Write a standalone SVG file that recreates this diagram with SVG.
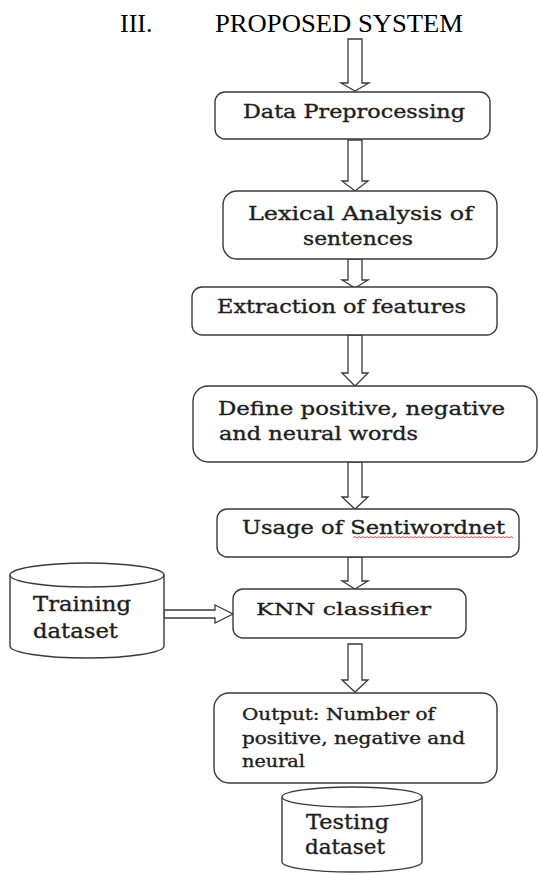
<svg xmlns="http://www.w3.org/2000/svg" width="540" height="874" viewBox="0 0 540 874">
<style>
.box{fill:#fff;stroke:#3a3a3a;stroke-width:1.4}
.arr{fill:#fff;stroke:#3a3a3a;stroke-width:1.3;stroke-linejoin:miter}
.t{font-family:"DejaVu Serif","Liberation Serif",serif;fill:#1e1e1e;stroke:#1e1e1e;stroke-width:0.35}
.title{font-family:"Liberation Serif","Times New Roman",serif;font-size:26px;fill:#000}
</style>
<rect width="540" height="874" fill="#fff"/>
<g id="title">
<text class="title" x="120" y="32">III.</text>
<text class="title" x="215" y="32" textLength="248" lengthAdjust="spacingAndGlyphs">PROPOSED SYSTEM</text>
</g>
<g id="connectors">
<path class="arr" d="M348,39 L362,39 L362,83 L369,83 L355,91 L341,83 L348,83 Z"/>
<path class="arr" d="M348,140 L362,140 L362,181 L368,181 L355,191 L342,181 L348,181 Z"/>
<path class="arr" d="M348,259 L362,259 L362,280 L368,280 L355,288 L342,280 L348,280 Z"/>
<path class="arr" d="M348,335 L362,335 L362,373 L368,373 L355,386 L342,373 L348,373 Z"/>
<path class="arr" d="M348,462 L362,462 L362,497 L368,497 L355,509 L342,497 L348,497 Z"/>
<path class="arr" d="M348,557 L362,557 L362,581 L368,581 L355,589 L342,581 L348,581 Z"/>
<path class="arr" d="M348,644 L362,644 L362,680 L368,680 L355,692 L342,680 L348,680 Z"/>
<path class="arr" d="M164,610 L215,610 L215,605 L233,614 L215,623 L215,618 L164,618 Z"/>
</g>
<g id="data-preprocessing">
<rect class="box" x="215" y="92" width="275" height="47" rx="10"/>
<text class="t" x="243" y="118" font-size="18" textLength="222" lengthAdjust="spacingAndGlyphs">Data Preprocessing</text>
</g>
<g id="lexical-analysis">
<rect class="box" x="223" y="191" width="274" height="68" rx="14"/>
<text class="t" x="248" y="220" font-size="19" textLength="225" lengthAdjust="spacingAndGlyphs">Lexical Analysis of</text>
<text class="t" x="303" y="245" font-size="19" textLength="110" lengthAdjust="spacingAndGlyphs">sentences</text>
</g>
<g id="extraction">
<rect class="box" x="192" y="287" width="305" height="48" rx="10"/>
<text class="t" x="217" y="313" font-size="18.5" textLength="249" lengthAdjust="spacingAndGlyphs">Extraction of features</text>
</g>
<g id="define-words">
<rect class="box" x="193" y="386" width="344" height="76" rx="15"/>
<text class="t" x="218" y="415" font-size="18.5" textLength="287" lengthAdjust="spacingAndGlyphs">Define positive, negative</text>
<text class="t" x="219" y="440" font-size="18.5" textLength="199" lengthAdjust="spacingAndGlyphs">and neural words</text>
</g>
<g id="sentiwordnet">
<rect class="box" x="217" y="509" width="302" height="48" rx="10"/>
<text class="t" x="242" y="534" font-size="18.5" textLength="263" lengthAdjust="spacingAndGlyphs">Usage of Sentiwordnet</text>
<path d="M353,538 l2,-1.5 l2,1.5 l2,-1.5 l2,1.5 l2,-1.5 l2,1.5 l2,-1.5 l2,1.5 l2,-1.5 l2,1.5 l2,-1.5 l2,1.5 l2,-1.5 l2,1.5 l2,-1.5 l2,1.5 l2,-1.5 l2,1.5 l2,-1.5 l2,1.5 l2,-1.5 l2,1.5 l2,-1.5 l2,1.5 l2,-1.5 l2,1.5 l2,-1.5 l2,1.5 l2,-1.5 l2,1.5 l2,-1.5 l2,1.5 l2,-1.5 l2,1.5 l2,-1.5 l2,1.5 l2,-1.5 l2,1.5 l2,-1.5 l2,1.5 l2,-1.5 l2,1.5 l2,-1.5 l2,1.5 l2,-1.5 l2,1.5 l2,-1.5 l2,1.5 l2,-1.5 l2,1.5 l2,-1.5 l2,1.5 l2,-1.5 l2,1.5 l2,-1.5 l2,1.5 l2,-1.5 l2,1.5 l2,-1.5 l2,1.5 l2,-1.5 l2,1.5 l2,-1.5 l2,1.5 l2,-1.5 l2,1.5 l2,-1.5 l2,1.5 l2,-1.5 l2,1.5 l2,-1.5 l2,1.5 l2,-1.5 l2,1.5 l2,-1.5 l2,1.5 l2,-1.5 l2,1.5 l2,-1.5 l2,1.5" fill="none" stroke="#e03030" stroke-width="0.9"/>
</g>
<g id="knn-classifier">
<rect class="box" x="233" y="589" width="233" height="49" rx="10"/>
<text class="t" x="256" y="615" font-size="17.5" textLength="175" lengthAdjust="spacingAndGlyphs">KNN classifier</text>
</g>
<g id="training-dataset">
<path class="box" d="M10,575 L10,646 A77,12 0 0 0 164,646 L164,575"/>
<ellipse class="box" cx="87" cy="575" rx="77" ry="12"/>
<text class="t" x="33" y="611" font-size="20.5" textLength="98" lengthAdjust="spacingAndGlyphs">Training</text>
<text class="t" x="33" y="638" font-size="20.5" textLength="85" lengthAdjust="spacingAndGlyphs">dataset</text>
</g>
<g id="output">
<rect class="box" x="214" y="693" width="283" height="90" rx="15"/>
<text class="t" x="242" y="720" font-size="16" textLength="193" lengthAdjust="spacingAndGlyphs">Output: Number of</text>
<text class="t" x="242" y="744" font-size="16" textLength="223" lengthAdjust="spacingAndGlyphs">positive, negative and</text>
<text class="t" x="242" y="767" font-size="16" textLength="63" lengthAdjust="spacingAndGlyphs">neural</text>
</g>
<g id="testing-dataset">
<path class="box" d="M282,797 L282,862 A70,10 0 0 0 422,862 L422,797"/>
<ellipse class="box" cx="352" cy="797" rx="70" ry="10"/>
<text class="t" x="306" y="829" font-size="20.5" textLength="83" lengthAdjust="spacingAndGlyphs">Testing</text>
<text class="t" x="305" y="854" font-size="20.5" textLength="80" lengthAdjust="spacingAndGlyphs">dataset</text>
</g>
</svg>
